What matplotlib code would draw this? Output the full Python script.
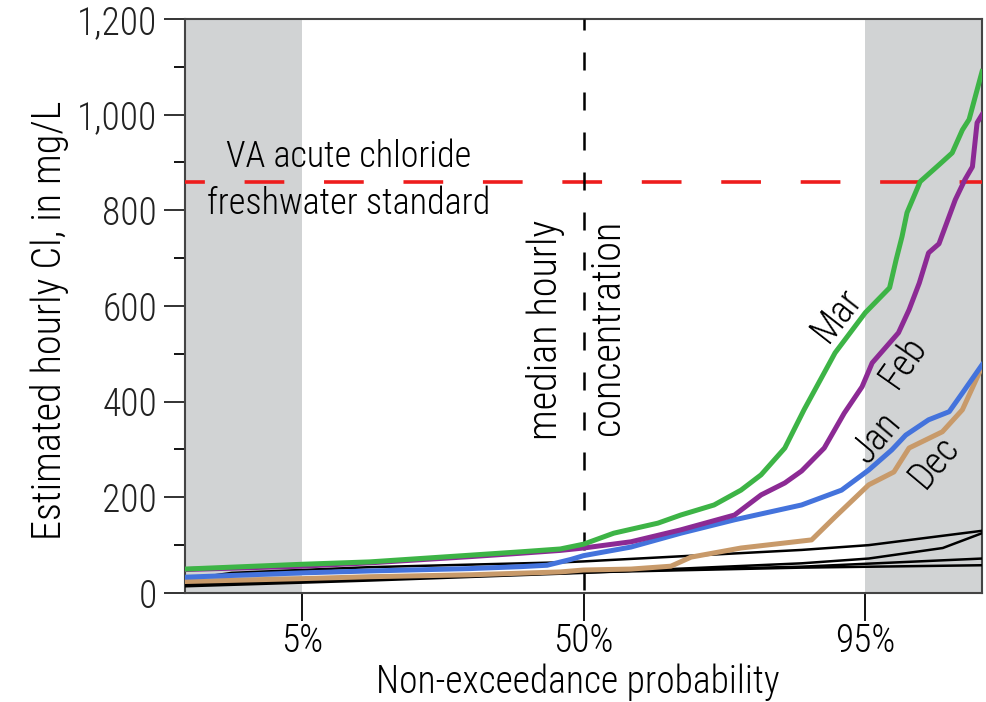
import matplotlib
matplotlib.use("Agg")
import matplotlib.pyplot as plt
from matplotlib import font_manager
from matplotlib.ticker import FixedLocator, MultipleLocator, FuncFormatter
from statistics import NormalDist

# ---------------- data ----------------
mar_p = [1, 5, 10.6, 25.4, 35.6, 44.6, 50, 57, 66.8, 71.5, 77.7, 82.1, 85, 88, 90.1, 92.9,
         95, 96.3, 96.6, 96.85, 97.05, 97.53, 98.1, 98.43, 98.65, 98.78, 99]
mar_c = [50, 60, 65, 79, 86, 92, 102, 125, 146, 163, 184, 215, 247, 303, 383, 502,
         586, 638, 697, 745, 795, 860, 895, 920, 968, 990, 1090]

feb_p = [1, 5, 10.6, 25.4, 35.6, 44.6, 50, 60.9, 71.5, 81.1, 85, 88, 89.85, 92, 93.6, 94.8,
         95.4, 96.7, 97.13, 97.5, 97.8, 98.1, 98.5, 98.7, 98.84, 98.92, 99]
feb_c = [49, 56, 63, 76, 83, 89, 94, 107, 132, 163, 205, 230, 255, 303, 376, 431,
         481, 544, 592, 648, 711, 730, 822, 864, 891, 983, 1000]

jan_p = [1, 5, 10.6, 25.4, 35.6, 41.6, 47, 50, 60.9, 71.5, 81.1, 89.85, 93.4, 95.2, 96.4,
         97.0, 97.8, 98.36, 98.5, 98.65, 99]
jan_c = [33, 42, 46, 51, 55, 58, 70, 78, 96, 125, 153, 184, 215, 257, 299,
         330, 362, 379, 397, 418, 477]

dec_p = [1, 5, 10.6, 25.4, 44.6, 50, 60.9, 69.5, 73.5, 82.1, 90.85, 92.9, 95.2, 96.5, 97.13,
         98.19, 98.65, 99]
dec_c = [24, 30, 34, 38, 44, 48, 50, 56, 75, 94, 111, 159, 226, 253, 303,
         337, 383, 473]

oth1_p = [1, 2, 10.6, 44.6, 50, 89.85, 95.2, 99]
oth1_c = [28, 42, 54, 64, 66, 90, 100, 130]
oth2_p = [1, 10.6, 50, 89.85, 95.2, 98.2, 99]
oth2_c = [14, 26, 42, 62, 72, 94, 125]
oth3_p = [1, 50, 89.85, 99]
oth3_c = [18, 44, 55, 72]
oth4_p = [1, 50, 89.85, 99]
oth4_c = [16, 43, 53, 58]

standard = 860
xtick_pct = [5, 50, 95]
xtick_labels = ["5%", "50%", "95%"]

# ---------------- fonts ----------------
avail = {f.name for f in font_manager.fontManager.ttflist}
font = "DejaVu Sans"
for cand in ["Roboto Condensed", "Liberation Sans Narrow", "Open Sans Condensed", "Liberation Sans"]:
    if cand in avail:
        font = cand
        break
plt.rcParams['font.family'] = [font, 'DejaVu Sans']
plt.rcParams['font.weight'] = 300
plt.rcParams['axes.labelweight'] = 300
FS = 27
FA = 26

nd = NormalDist()
def z(pcts):
    return [nd.inv_cdf(p / 100.0) for p in pcts]

fig = plt.figure(figsize=(9.86, 7.02), dpi=100)
ax = fig.add_axes([0.1876, 0.1553, 0.8084, 0.8177])

xmin, xmax = z([1])[0], z([99])[0]
shade = "#d1d3d4"
ax.axvspan(xmin, z([5])[0], color=shade, lw=0, zorder=0)
ax.axvspan(z([95])[0], xmax, color=shade, lw=0, zorder=0)

ax.axhline(standard, color="#ee1c1c", lw=2.6, linestyle=(5.5, (11, 11)), zorder=3)
ax.axvline(0, color="black", lw=1.8, linestyle=(14.8, (7.2, 8.8)), zorder=3)

for pp, cc in [(oth1_p, oth1_c), (oth2_p, oth2_c), (oth3_p, oth3_c), (oth4_p, oth4_c)]:
    ax.plot(z(pp), cc, color="black", lw=1.8, zorder=4)
ax.plot(z(dec_p), dec_c, color="#c89a6a", lw=3.6, zorder=5)
ax.plot(z(jan_p), jan_c, color="#4473dc", lw=3.6, zorder=6)
ax.plot(z(feb_p), feb_c, color="#8c2a94", lw=3.6, zorder=7)
ax.plot(z(mar_p), mar_c, color="#3db446", lw=3.6, zorder=8)

ax.set_xlim(xmin, xmax)
ax.set_ylim(0, 1200)
ax.xaxis.set_major_locator(FixedLocator(z(xtick_pct)))
ax.set_xticklabels(xtick_labels)
ax.yaxis.set_major_locator(MultipleLocator(200))
ax.yaxis.set_minor_locator(MultipleLocator(100))
ax.yaxis.set_major_formatter(FuncFormatter(lambda v, _: f"{int(v):,}"))
ax.tick_params(axis="y", which="major", length=15, width=1.3, labelsize=FS, pad=5, colors="#222222")
ax.tick_params(axis="y", which="minor", length=8, width=1.3)
ax.tick_params(axis="x", which="major", length=20, width=1.3, labelsize=FS, pad=1)
for s in ax.spines.values():
    s.set_linewidth(1.5)
    s.set_color("#444444")

W, H = 797.0, 574.0
def fx(px): return (px - 185) / W
def fy(py): return (593 - py) / H

ax.set_ylabel("Estimated hourly Cl, in mg/L", fontsize=29, fontweight=300)
ax.yaxis.label.set_va("center")
ax.yaxis.set_label_coords(fx(50), fy(320))
ax.set_xlabel("Non-exceedance probability", fontsize=FS, fontweight=300)
ax.xaxis.label.set_va("center")
ax.xaxis.set_label_coords(fx(578), fy(682))

def at(xfrac, yfrac, s, rot=0, size=FA):
    ax.text(xfrac, yfrac, s, transform=ax.transAxes, rotation=rot, ha="center", va="center",
            fontsize=size, rotation_mode="anchor", zorder=10)

at(fx(349), fy(157), "VA acute chloride")
at(fx(349), fy(204), "freshwater standard")
at(fx(545), fy(330), "median hourly", rot=90, size=29)
at(fx(608), fy(327), "concentration", rot=90, size=29)
at(fx(837), fy(315), "Mar", rot=52, size=27)
at(fx(903), fy(362), "Feb", rot=55, size=27)
at(fx(877), fy(437), "Jan", rot=50, size=27)
at(fx(934), fy(462), "Dec", rot=50, size=27)

fig.savefig("out.png", dpi=100)
